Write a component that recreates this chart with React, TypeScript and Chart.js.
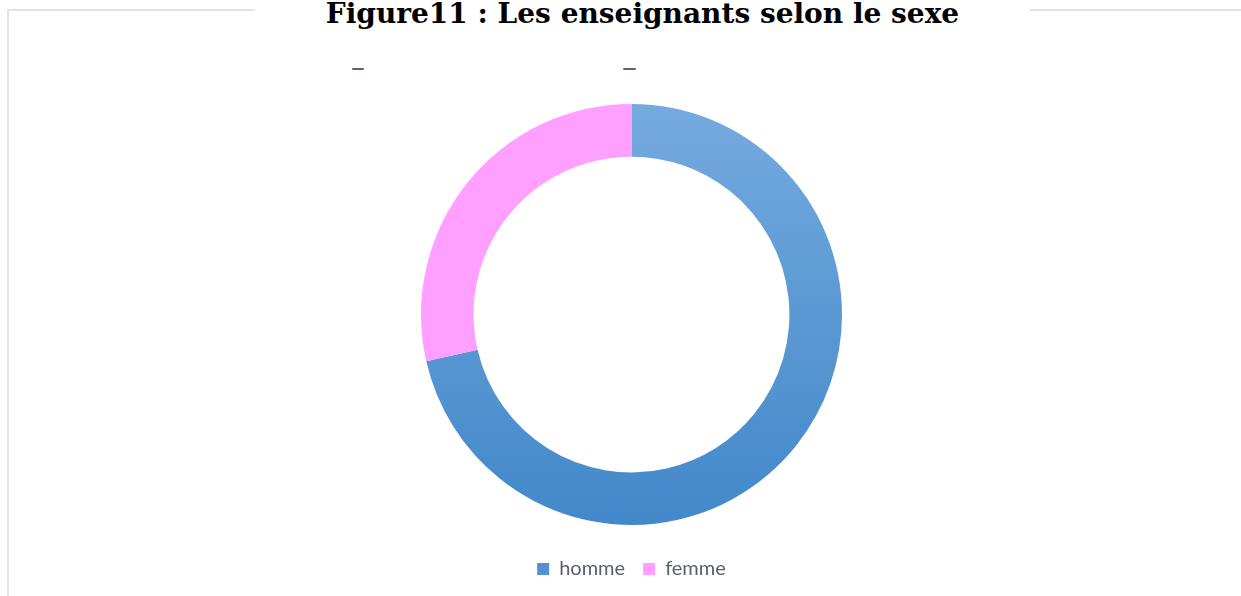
import React, { useEffect, useRef } from "react";
import { Chart, registerables } from "chart.js";

Chart.register(...registerables);

const TITLE = "Figure11 : Les enseignants selon le sexe";
const categories = ["homme", "femme"];
const values = [20, 8];
const femmeColor = "#FF9FFF";

export default function App() {
  const ref = useRef<HTMLCanvasElement | null>(null);

  useEffect(() => {
    if (!ref.current) return;
    const chart = new Chart(ref.current, {
      type: "doughnut",
      data: {
        labels: categories,
        datasets: [
          {
            data: values,
            borderWidth: 0,
            backgroundColor: (ctx: any) => {
              if (ctx.dataIndex === 1) return femmeColor;
              const area = ctx.chart.chartArea;
              if (!area) return "#5b9bd5";
              const g = ctx.chart.ctx.createLinearGradient(0, area.top, 0, area.bottom);
              g.addColorStop(0, "rgb(117,170,222)");
              g.addColorStop(1, "rgb(66,136,202)");
              return g;
            },
          },
        ],
      },
      options: {
        animation: false,
        responsive: false,
        maintainAspectRatio: false,
        cutout: "75%",
        rotation: 0,
        layout: { padding: { top: 104, left: 22, right: 0, bottom: 7 } },
        plugins: {
          title: { display: false },
          tooltip: { enabled: false },
          legend: {
            position: "bottom",
            title: { display: true, text: " ", font: { size: 10 }, padding: 2 },
            labels: {
              boxWidth: 12,
              boxHeight: 12,
              padding: 18,
              color: "#586074",
              font: { family: "Lato, 'Noto Sans', sans-serif", size: 20 },
              generateLabels: () =>
                categories.map((t, i) => ({
                  text: t,
                  fillStyle: i === 0 ? "#5391d4" : femmeColor,
                  strokeStyle: "transparent",
                  lineWidth: 0,
                  hidden: false,
                  index: i,
                  fontColor: "#586074",
                })),
            },
          },
        },
      },
    });
    return () => chart.destroy();
  }, []);

  return (
    <div style={{ position: "absolute", left: 0, top: 0, width: 1241, height: 596, background: "#fff", overflow: "hidden" }}>
      <div style={{ position: "absolute", left: 7, top: 9, width: 1240, height: 600, borderLeft: "2px solid #dfe3ea", borderTop: "2px solid #dfe3ea" }} />
      <canvas ref={ref} width={1241} height={596} style={{ position: "absolute", left: 0, top: 0 }} />
      <div style={{ position: "absolute", left: 352, top: 68, width: 12, height: 2, background: "#5a6379", borderRadius: 1 }} />
      <div style={{ position: "absolute", left: 623, top: 68, width: 13, height: 2, background: "#5a6379", borderRadius: 1 }} />
      <div
        style={{
          position: "absolute",
          left: 255,
          width: 775,
          top: -8,
          height: 44,
          background: "#fff",
          textAlign: "center",
          fontFamily: "'DejaVu Serif', serif",
          fontWeight: "bold",
          fontSize: 28,
          lineHeight: "44px",
          color: "#000",
          whiteSpace: "nowrap",
        }}
      >
        {TITLE}
      </div>
    </div>
  );
}
